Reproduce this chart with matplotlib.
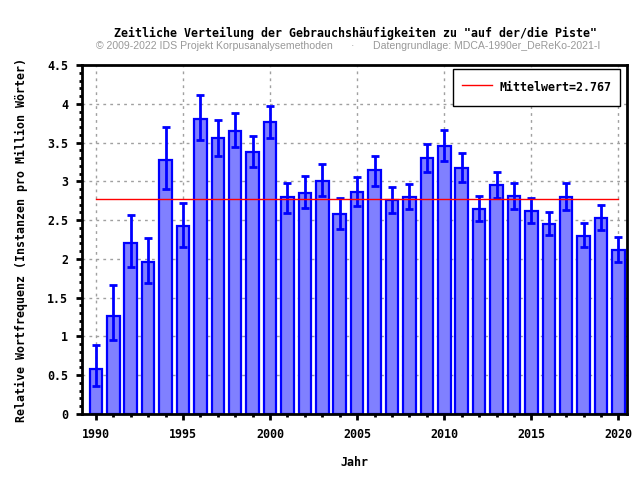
import numpy as np
import matplotlib
matplotlib.use("Agg")
import matplotlib.pyplot as plt
from matplotlib.ticker import MultipleLocator

# data
years = list(range(1990, 2021))
freq = [0.576, 1.268, 2.209, 1.964, 3.279, 2.428, 3.808, 3.563, 3.653, 3.382,
        3.769, 2.794, 2.854, 3.008, 2.583, 2.866, 3.142, 2.764, 2.802, 3.305,
        3.460, 3.176, 2.648, 2.957, 2.815, 2.622, 2.454, 2.802, 2.299, 2.531,
        2.119]
err_hi = [0.890, 1.663, 2.570, 2.274, 3.705, 2.725, 4.117, 3.795, 3.885, 3.589,
          3.975, 2.983, 3.073, 3.223, 2.781, 3.060, 3.331, 2.931, 2.970, 3.486,
          3.666, 3.370, 2.815, 3.125, 2.983, 2.789, 2.609, 2.983, 2.467, 2.699,
          2.287]
err_lo = [0.365, 0.958, 1.895, 1.693, 2.905, 2.158, 3.533, 3.327, 3.443, 3.185,
          3.559, 2.592, 2.660, 2.815, 2.385, 2.686, 2.940, 2.592, 2.643, 3.120,
          3.266, 2.991, 2.488, 2.785, 2.643, 2.463, 2.308, 2.635, 2.153, 2.372,
          1.964]
mean_val = 2.767

mono = "DejaVu Sans Mono"

fig = plt.figure(figsize=(6.4, 4.8), dpi=100)
ax = fig.add_axes([0.128, 0.1375, 0.852, 0.727])

f = np.array(freq)
yerr = [f - np.array(err_lo), np.array(err_hi) - f]

ax.bar(years, freq, width=0.72, color="#8080ff", edgecolor="#0000ff",
       linewidth=1.6, zorder=2)
ax.errorbar(years, freq, yerr=yerr, fmt="none", ecolor="#0000ff",
            elinewidth=2, capsize=3, capthick=2, zorder=3)
ax.plot([years[0], years[-1]], [mean_val, mean_val], color="red", lw=1,
        zorder=4, label="Mittelwert=%.3f" % mean_val)

ax.set_xlim(1989.2, 2020.5)
ax.set_ylim(0, 4.5)
ax.xaxis.set_major_locator(MultipleLocator(5))
ax.xaxis.set_minor_locator(MultipleLocator(1))
ax.yaxis.set_major_locator(MultipleLocator(0.5))
ax.yaxis.set_minor_locator(MultipleLocator(0.1))
ax.yaxis.set_major_formatter(plt.FuncFormatter(lambda v, p: ("%g" % v)))
ax.tick_params(which="major", direction="out", length=4, width=2,
               labelsize=8.4)
ax.tick_params(which="minor", direction="out", length=2.5, width=2)
ax.tick_params(axis="x", which="major", pad=6)
ax.tick_params(axis="y", which="major", pad=6)
for lbl in ax.get_xticklabels() + ax.get_yticklabels():
    lbl.set_fontfamily(mono)
    lbl.set_fontweight("bold")
for s in ax.spines.values():
    s.set_linewidth(2)

ax.grid(True, which="major", color="#a0a0a0", linestyle=(0, (2, 3)), lw=1,
        zorder=0)
ax.set_axisbelow(True)

ax.set_xlabel("Jahr", fontfamily=mono, fontweight="bold", fontsize=8.4,
              labelpad=11)
ax.set_ylabel("Relative Wortfrequenz (Instanzen pro Million Wörter)",
              fontfamily=mono, fontweight="bold", fontsize=8.4, labelpad=14)

leg = ax.legend(loc="upper right", fancybox=False, framealpha=1,
                edgecolor="black", borderpad=0.75, borderaxespad=0,
                handlelength=2.6, handleheight=2.1, handletextpad=0.6,
                prop={"family": mono, "weight": "bold", "size": 8.4},
                bbox_to_anchor=(0.987, 0.988))
leg.get_frame().set_linewidth(1)

fig.text(0.555, 0.931, 'Zeitliche Verteilung der Gebrauchshäufigkeiten zu "auf der/die Piste"',
         ha="center", va="center", fontfamily=mono, fontweight="bold",
         fontsize=8.4)
sub = ["Liberation Sans", "DejaVu Sans"]
fig.text(96 / 640, 0.904, "© 2009-2022 IDS Projekt Korpusanalysemethoden",
         ha="left", va="center", color="#999999", fontfamily=sub, fontsize=7.6)
fig.text(352 / 640, 0.904, "·", ha="center", va="center", color="#999999",
         fontfamily=sub, fontsize=7.6)
fig.text(600 / 640, 0.904, "Datengrundlage: MDCA-1990er_DeReKo-2021-I",
         ha="right", va="center", color="#999999", fontfamily=sub, fontsize=7.6)

plt.savefig("out.png", dpi=100)
